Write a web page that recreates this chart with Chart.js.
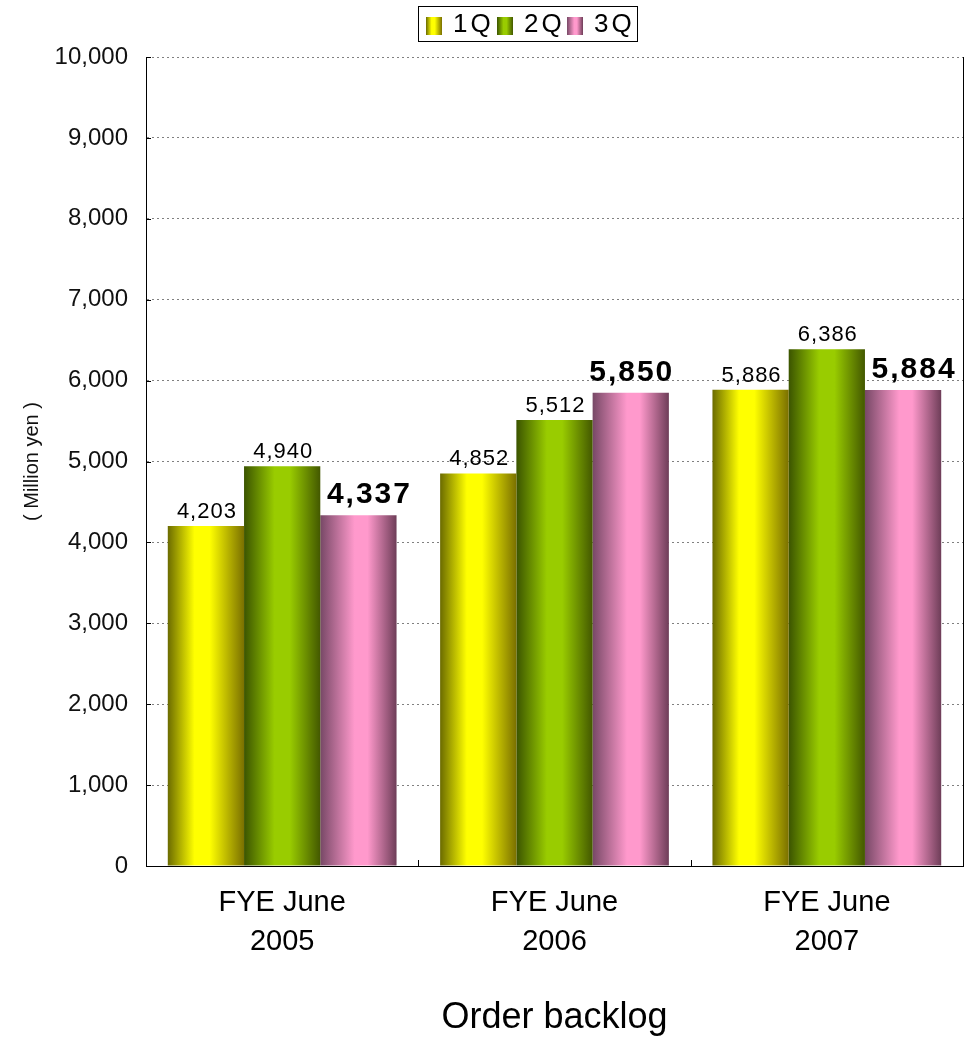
<!DOCTYPE html>
<html>
<head>
<meta charset="utf-8">
<script src="https://cdn.jsdelivr.net/npm/chart.js@4/dist/chart.umd.min.js"></script>
<style>
  body { margin: 0; background: #fff; }
  #wrap { width: 971px; height: 1040px; }
</style>
</head>
<body>
<div id="wrap"><canvas id="chart"></canvas></div>
<script>
'use strict';

var years = [['FYE June', '2005'], ['FYE June', '2006'], ['FYE June', '2007']];
var quarters = ['1Q', '2Q', '3Q'];
var q1 = [4203, 4852, 5886];
var q2 = [4940, 5512, 6386];
var q3 = [4337, 5850, 5884];
var yMax = 10000;
var yStep = 1000;

var FONT = "'Liberation Sans', Arial, sans-serif";
var catPct = 0.84;

// shaded fills, dark edges with a bright band left of centre
var shades = [
  [[0, '#6b6b00'], [0.35, '#ffff00'], [0.55, '#ffff00'], [1, '#7a7000']],
  [[0, '#3b5400'], [0.4, '#99cc00'], [0.6, '#99cc00'], [1, '#435800']],
  [[0, '#774866'], [0.45, '#ff99cc'], [0.62, '#ff99cc'], [1, '#6e3d58']]
];

function makeGradient(ctx, x0, x1, stops) {
  var g = ctx.createLinearGradient(x0, 0, x1, 0);
  for (var i = 0; i < stops.length; i++) {
    g.addColorStop(stops[i][0], stops[i][1]);
  }
  return g;
}

function barFill(stops) {
  return function(c) {
    var chart = c.chart;
    var xs = chart.scales.x;
    if (!xs || c.dataIndex === undefined) { return stops[1][1]; }
    var cat = xs.width / years.length;
    var w = cat * catPct / quarters.length;
    var cx = xs.getPixelForValue(c.dataIndex) + (c.datasetIndex - 1) * w;
    if (!isFinite(cx) || !isFinite(w) || w <= 0) { return stops[1][1]; }
    return makeGradient(chart.ctx, cx - w / 2, cx + w / 2, stops);
  };
}

// value labels over the bars, 3Q in bold (nudged right where the group is tight)
var valueLabels = {
  id: 'valueLabels',
  afterDatasetsDraw: function(chart) {
    var ctx = chart.ctx;
    ctx.save();
    ctx.textAlign = 'center';
    ctx.textBaseline = 'alphabetic';
    ctx.fillStyle = '#000';
    chart.data.datasets.forEach(function(ds, di) {
      var meta = chart.getDatasetMeta(di);
      meta.data.forEach(function(el, i) {
        var txt = ds.data[i].toLocaleString('en-US');
        if (di === 2) {
          ctx.font = 'bold 30px ' + FONT;
          ctx.letterSpacing = '2px';
          ctx.fillText(txt, el.x + (i === 1 ? 1 : 11), el.y - 12);
        } else {
          ctx.font = '22px ' + FONT;
          ctx.letterSpacing = '1px';
          ctx.fillText(txt, el.x + 1, el.y - 8);
        }
      });
    });
    ctx.restore();
  }
};

// right frame line, small inward ticks and the boxed legend at the top
var frameAndLegend = {
  id: 'frameAndLegend',
  afterDraw: function(chart) {
    var ctx = chart.ctx;
    var a = chart.chartArea;
    var xs = chart.scales.x;
    var ys = chart.scales.y;
    ctx.save();
    ctx.strokeStyle = '#000';
    ctx.lineWidth = 1;
    ctx.beginPath();
    ctx.moveTo(Math.round(a.right) + 0.5, a.top);
    ctx.lineTo(Math.round(a.right) + 0.5, a.bottom);
    ys.ticks.forEach(function(t) {
      var py = Math.round(ys.getPixelForValue(t.value)) + 0.5;
      ctx.moveTo(a.left, py);
      ctx.lineTo(a.left + 5, py);
    });
    var half = xs.width / years.length / 2;
    for (var k = 1; k < years.length; k++) {
      var px = Math.round(xs.getPixelForValue(k) - half) + 0.5;
      ctx.moveTo(px, a.bottom);
      ctx.lineTo(px, a.bottom - 6);
    }
    ctx.stroke();

    // legend
    var lx = 418, ly = 6, lw = 219, lh = 35;
    ctx.fillStyle = '#fff';
    ctx.fillRect(lx, ly, lw, lh);
    ctx.strokeRect(lx + 0.5, ly + 0.5, lw, lh);
    var boxX = [426, 497, 567];
    ctx.font = '26px ' + FONT;
    ctx.letterSpacing = '3px';
    ctx.textBaseline = 'middle';
    ctx.textAlign = 'left';
    for (var i = 0; i < quarters.length; i++) {
      ctx.fillStyle = makeGradient(ctx, boxX[i], boxX[i] + 16, shades[i]);
      ctx.fillRect(boxX[i], 17, 16, 18);
      ctx.fillStyle = '#000';
      ctx.fillText(quarters[i], boxX[i] + 27, 25);
    }
    ctx.restore();
  }
};

var ctx = document.getElementById('chart').getContext('2d');
new Chart(ctx, {
  type: 'bar',
  data: {
    labels: years,
    datasets: [
      { label: quarters[0], data: q1, backgroundColor: barFill(shades[0]) },
      { label: quarters[1], data: q2, backgroundColor: barFill(shades[1]) },
      { label: quarters[2], data: q3, backgroundColor: barFill(shades[2]) }
    ]
  },
  options: {
    responsive: true,
    maintainAspectRatio: false,
    animation: false,
    layout: { padding: { top: 57, right: 8, left: 0, bottom: 0 } },
    datasets: { bar: { categoryPercentage: catPct, barPercentage: 1 } },
    plugins: {
      legend: { display: false },
      tooltip: { enabled: false }
    },
    scales: {
      x: {
        grid: { display: false },
        border: { display: true, color: '#000', width: 1 },
        ticks: { color: '#000', font: { family: FONT, size: 29, lineHeight: 1.35 }, padding: 9, maxRotation: 0 },
        title: { display: true, text: 'Order backlog', color: '#000', font: { family: FONT, size: 36 }, padding: 0 },
        afterFit: function(s) { s.height = 174; }
      },
      y: {
        min: 0,
        max: yMax,
        ticks: {
          stepSize: yStep,
          color: '#111',
          font: { family: FONT, size: 24 },
          padding: 18,
          callback: function(v) { return v.toLocaleString('en-US'); }
        },
        grid: { color: '#808080', drawTicks: false, lineWidth: 1 },
        border: { display: true, color: '#000', width: 1, dash: [2, 3] },
        title: { display: true, text: '( Million yen )', color: '#111', font: { family: FONT, size: 20 }, padding: { top: 20, bottom: 0 } },
        afterFit: function(s) { s.width = 146; }
      }
    }
  },
  plugins: [valueLabels, frameAndLegend]
});
</script>
</body>
</html>
